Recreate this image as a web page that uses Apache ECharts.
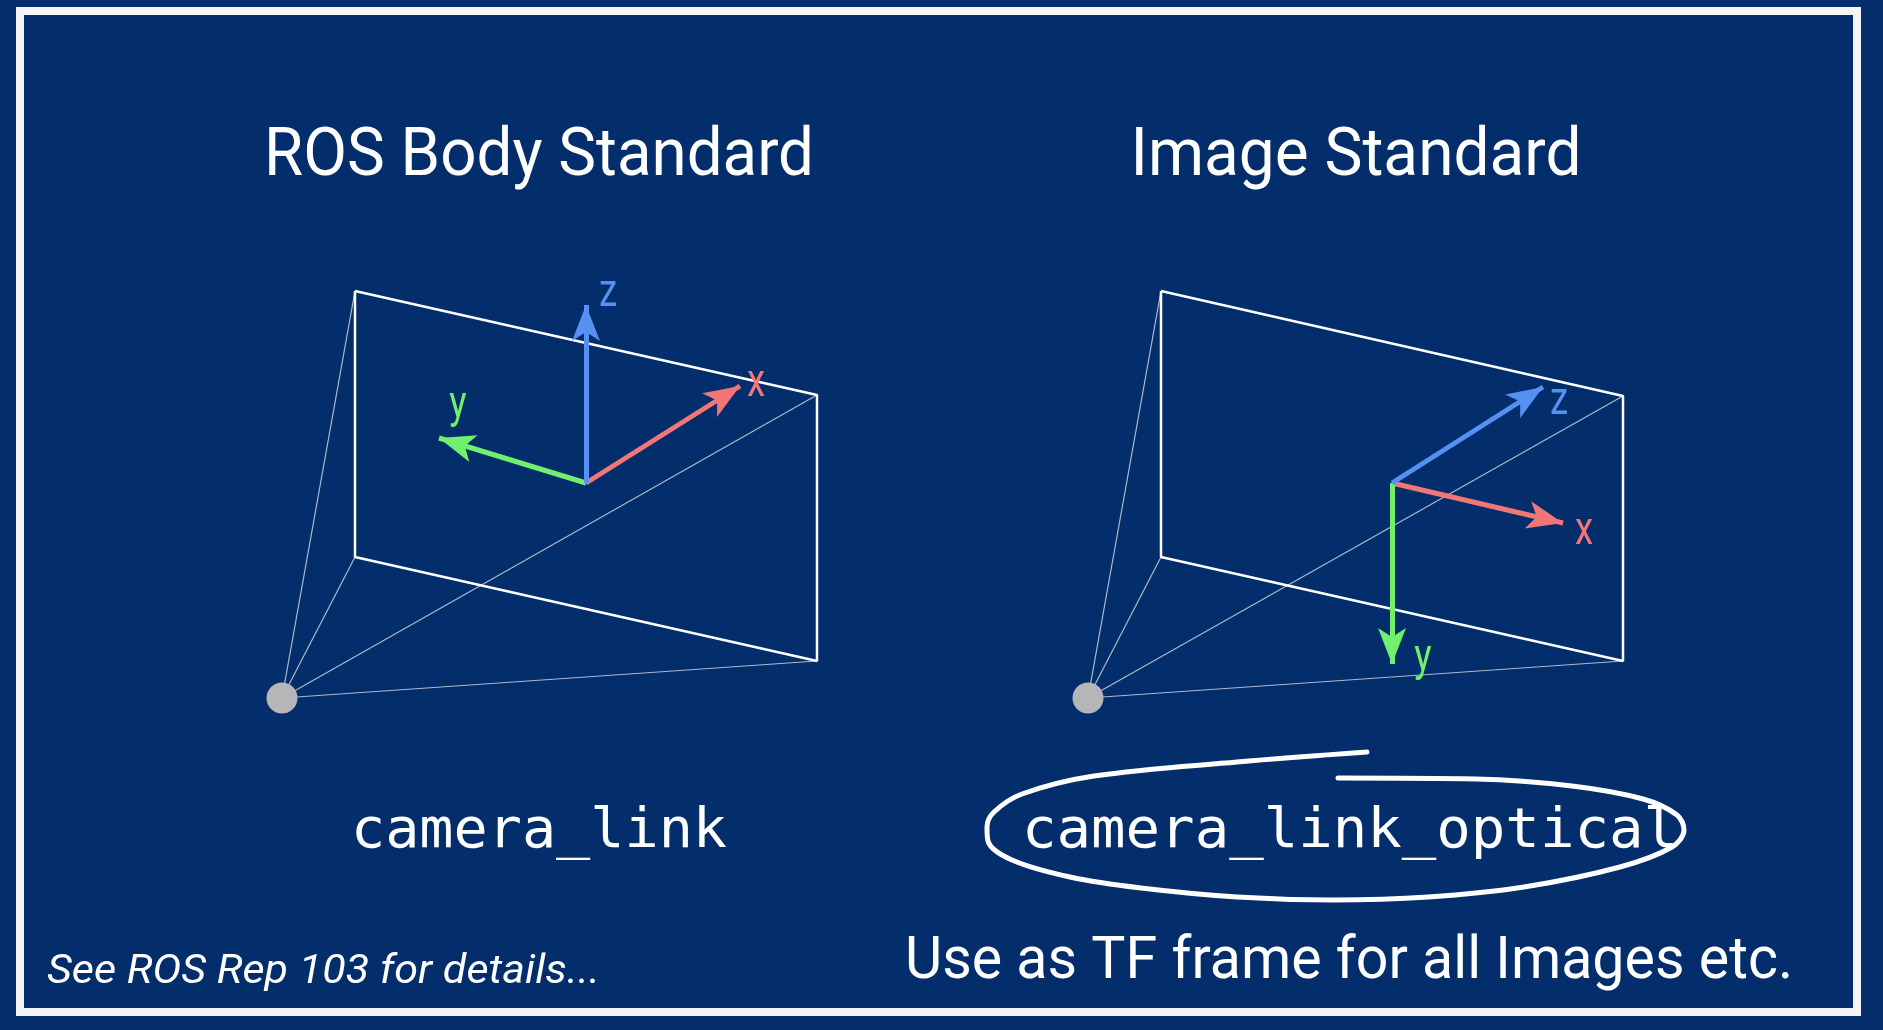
<!DOCTYPE html>
<html>
<head>
<meta charset="utf-8">
<script src="https://cdn.jsdelivr.net/npm/echarts@6/dist/echarts.min.js"></script>
<style>
html,body{margin:0;padding:0;background:#032d6b;overflow:hidden}
#c{width:1883px;height:1030px}
</style>
</head>
<body>
<div id="c"></div>
<script>
// ---------- data (diagram coordinates, 1 unit = 1 px of the reference) ----------
const titles = ['ROS Body Standard', 'Image Standard'];
const frameNames = ['camera_link', 'camera_link_optical'];
const footNote = 'See ROS Rep 103 for details...';
const usageNote = 'Use as TF frame for all Images etc.';

const borderPath = [[20, 11], [1857, 11], [1857, 1012], [20, 1012], [20, 11]];

const planeLeft = [[355, 291], [817, 395], [817, 661], [355, 557], [355, 291]];
const planeRight = [[1161, 291], [1623, 396], [1623, 661], [1161, 557], [1161, 291]];

const cameraLeft = [282, 698];
const cameraRight = [1088, 698];

const originLeft = [586, 483];
const originRight = [1392, 483];

const axisNames = ['x', 'y', 'z'];
const tipsLeft = [[740, 386], [439, 438], [586, 305]];
const tipsRight = [[1563, 523], [1392, 664], [1543, 387]];
const labelLeft = [[756, 386], [458, 408], [608, 296]];
const labelRight = [[1584, 534], [1423, 661], [1559, 404]];

const loopStroke = [[1338, 778], [1476, 779], [1572, 786], [1643, 799], [1677, 815], [1684, 830],
  [1672, 847], [1620, 867], [1524, 887], [1428, 897], [1333, 900], [1237, 897], [1141, 888],
  [1070, 877], [1012, 860], [988, 841], [987, 827], [994, 812], [1022, 794], [1094, 776],
  [1237, 762], [1367, 752]];

// ---------- styles ----------
const axisColors = ['#f27676', '#70f06c', '#5590f2'];
const BG = '#032d6b';

const chart = echarts.init(document.getElementById('c'), null, {renderer: 'canvas'});

function frustum(cam, plane) {
  return plane.slice(0, 4).map(p => ({coords: [cam, p]}));
}
function arrows(origin, tips) {
  return tips.map((t, i) => ({coords: [origin, t], lineStyle: {color: axisColors[i]}}));
}

const series = [
  {type: 'line', data: borderPath, symbol: 'none', z: 1,
   lineStyle: {color: '#f3f5f8', width: 8, cap: 'square', join: 'miter'}},
  {type: 'lines', coordinateSystem: 'cartesian2d', data: frustum(cameraLeft, planeLeft).concat(frustum(cameraRight, planeRight)),
   lineStyle: {color: '#cdd2de', width: 1.2, opacity: 0.85}, z: 2},
  {type: 'line', data: planeLeft, symbol: 'none', z: 3, lineStyle: {color: '#ffffff', width: 2.5}},
  {type: 'line', data: planeRight, symbol: 'none', z: 3, lineStyle: {color: '#ffffff', width: 2.5}},
  {type: 'scatter', data: [cameraLeft, cameraRight], symbol: 'circle', symbolSize: 31, z: 4,
   itemStyle: {color: '#b6b6b8', opacity: 1}},
  {type: 'lines', coordinateSystem: 'cartesian2d', data: arrows(originLeft, tipsLeft).concat(arrows(originRight, tipsRight)),
   symbol: ['none', 'arrow'], symbolSize: [0, [21, 36]], z: 5,
   lineStyle: {width: 5, opacity: 1}},
  {type: 'line', data: loopStroke, symbol: 'none', smooth: 0.35, z: 6,
   lineStyle: {color: '#ffffff', width: 5, cap: 'round', join: 'round'}}
];

chart.setOption({
  backgroundColor: BG,
  animation: false,
  grid: {left: 0, right: 0, top: 0, bottom: 0, containLabel: false},
  xAxis: {type: 'value', min: 0, max: 1883, show: false},
  yAxis: {type: 'value', min: 0, max: 1030, inverse: true, show: false},
  series: series
});

// ---------- text (positions converted through the chart's axes) ----------
const mctx = document.createElement('canvas').getContext('2d');
function fit(text, font, target) {
  mctx.font = font;
  return target / mctx.measureText(text).width;
}
function px(p) { return chart.convertToPixel({gridIndex: 0}, p); }

function txt(text, pos, size, family, opts) {
  opts = opts || {};
  const style = opts.style || 'normal';
  const font = style + ' 400 ' + size + 'px ' + family;
  const s = opts.width ? fit(text, font, opts.width) : (opts.scale || 1);
  const p = px(pos);
  return {
    type: 'text', x: p[0], y: p[1], scaleX: s, z: 100,
    style: {
      text: text, fill: opts.color || '#ffffff',
      fontSize: size, fontFamily: family, fontStyle: style, fontWeight: 400,
      align: opts.align || 'center', verticalAlign: 'middle'
    }
  };
}

const textPos = {
  title: [[539, 158], [1356, 158]],
  frame: [[539, 832], [1350, 832]],
  usage: [1349, 963],
  foot: [47, 973]
};

const g = [
  txt(titles[0], textPos.title[0], 66, 'Roboto', {width: 550}),
  txt(titles[1], textPos.title[1], 66, 'Roboto', {width: 451}),
  txt(frameNames[0], textPos.frame[0], 56, '"DejaVu Sans Mono"', {width: 376}),
  txt(frameNames[1], textPos.frame[1], 56, '"DejaVu Sans Mono"', {width: 656}),
  txt(usageNote, textPos.usage, 60, 'Roboto', {width: 888}),
  txt(footNote, textPos.foot, 41, 'Roboto', {width: 553, align: 'left', style: 'italic'})
];
axisNames.forEach((n, i) => {
  g.push(txt(n, [labelLeft[i][0], labelLeft[i][1] - 2], 47, 'Roboto', {scale: 0.78, color: axisColors[i]}));
  g.push(txt(n, [labelRight[i][0], labelRight[i][1] - 2], 47, 'Roboto', {scale: 0.78, color: axisColors[i]}));
});

chart.setOption({graphic: {elements: g}});
</script>
</body>
</html>
